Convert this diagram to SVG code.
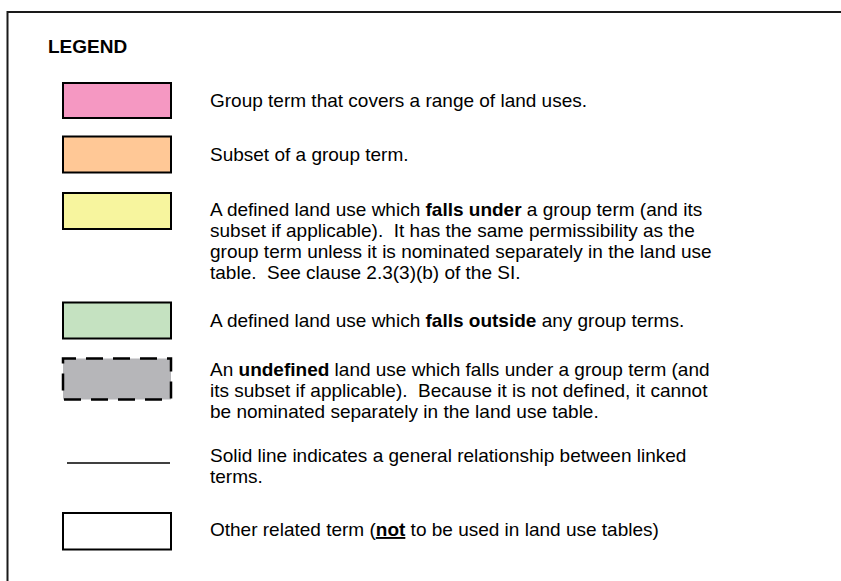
<svg xmlns="http://www.w3.org/2000/svg" width="841" height="581" viewBox="0 0 841 581">
  <style>
    text { font-family: "Liberation Sans", Arial, sans-serif; font-size: 19px; fill: #000; white-space: pre; }
    .title { font-weight: bold; font-size: 19px; }
    .b { font-weight: bold; }
    .swatch { stroke: #000; stroke-width: 2; }
    .dashed { stroke-dasharray: 17 10; stroke-dashoffset: 4; stroke-width: 2.5; }
  </style>
  <rect width="841" height="581" fill="#fff"/>
  <!-- outer frame, running off the right and bottom edges -->
  <rect x="7.5" y="12" width="860" height="600" fill="none" stroke="#1a1a1a" stroke-width="2"/>

  <text class="title" x="48" y="53">LEGEND</text>

  <g id="group-term">
    <rect class="swatch" x="63" y="83" width="108" height="35" fill="#F598C2"/>
    <text x="210" y="107">Group term that covers a range of land uses.</text>
  </g>

  <g id="subset">
    <rect class="swatch" x="63" y="136.5" width="108" height="36" fill="#FFC896"/>
    <text x="210" y="161">Subset of a group term.</text>
  </g>

  <g id="defined-under">
    <rect class="swatch" x="63" y="193" width="108" height="36" fill="#F7F59E"/>
    <text x="210" y="216" xml:space="preserve">A defined land use which <tspan class="b">falls under</tspan> a group term (and its</text>
    <text x="210" y="237" xml:space="preserve">subset if applicable).  It has the same permissibility as the</text>
    <text x="210" y="258" xml:space="preserve">group term unless it is nominated separately in the land use</text>
    <text x="210" y="279" xml:space="preserve">table.  See clause 2.3(3)(b) of the SI.</text>
  </g>

  <g id="defined-outside">
    <rect class="swatch" x="63" y="302.5" width="108" height="36" fill="#C5E2C1"/>
    <text x="210" y="327" xml:space="preserve">A defined land use which <tspan class="b">falls outside</tspan> any group terms.</text>
  </g>

  <g id="undefined">
    <rect class="swatch dashed" x="63" y="358.5" width="108" height="41" fill="#B6B6B9"/>
    <text x="210" y="376" xml:space="preserve">An <tspan class="b">undefined</tspan> land use which falls under a group term (and</text>
    <text x="210" y="397" xml:space="preserve">its subset if applicable).  Because it is not defined, it cannot</text>
    <text x="210" y="418">be nominated separately in the land use table.</text>
  </g>

  <g id="connectors">
    <line x1="67" y1="463" x2="170" y2="463" stroke="#000" stroke-width="1.6"/>
  </g>
  <g id="solid-line-label">
    <text x="210" y="462">Solid line indicates a general relationship between linked</text>
    <text x="210" y="483">terms.</text>
  </g>

  <g id="other-term">
    <rect class="swatch" x="63" y="513" width="108" height="36.5" fill="#fff"/>
    <text x="210" y="536" xml:space="preserve">Other related term (<tspan class="b" text-decoration="underline">not</tspan> to be used in land use tables)</text>
  </g>
</svg>
